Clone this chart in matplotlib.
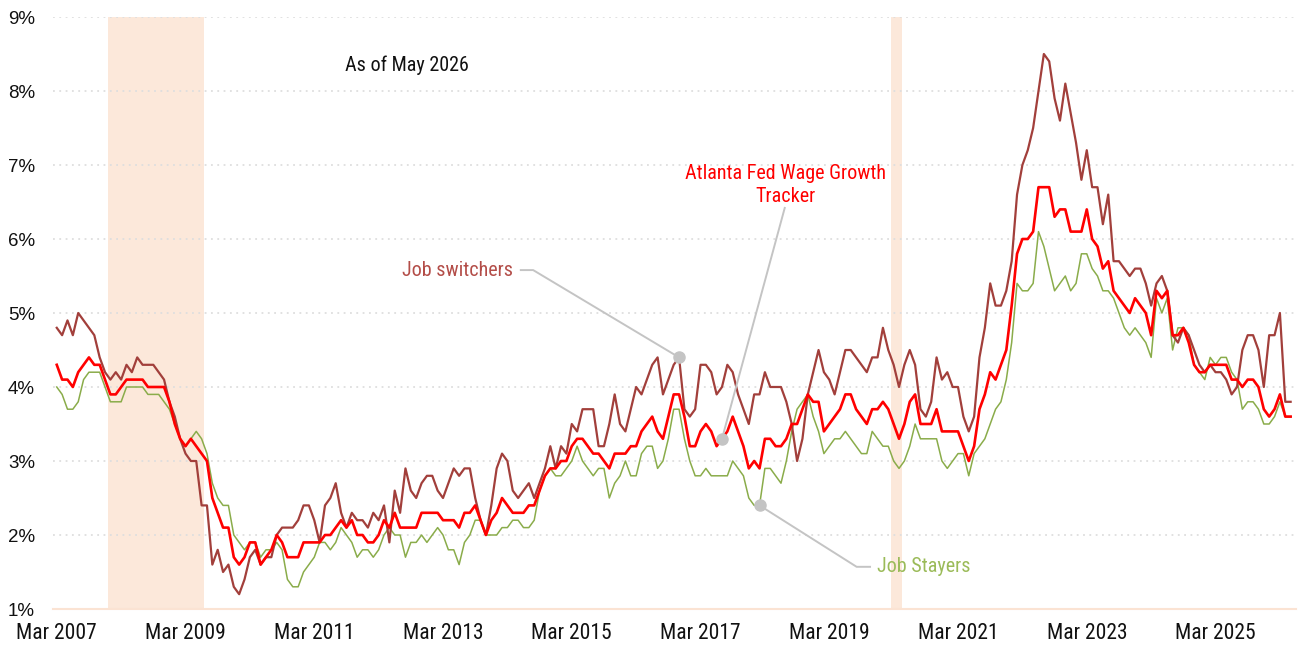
import numpy as np
import pandas as pd
import matplotlib
matplotlib.use("Agg")
import matplotlib.pyplot as plt
from matplotlib import font_manager

# Monthly series, 3-month moving average of median wage growth (%), Mar 2007 onward
start_month = "2007-03"

switchers = [
    4.8, 4.7, 4.9, 4.7, 5.0, 4.9, 4.8, 4.7,
    4.4, 4.2, 4.1, 4.2, 4.1, 4.3, 4.2, 4.4,
    4.3, 4.3, 4.3, 4.2, 4.1, 3.8, 3.6, 3.3,
    3.1, 3.0, 3.0, 2.4, 2.4, 1.6, 1.8, 1.5,
    1.6, 1.3, 1.2, 1.4, 1.7, 1.8, 1.6, 1.7,
    1.7, 2.0, 2.1, 2.1, 2.1, 2.2, 2.4, 2.4,
    2.2, 1.9, 2.4, 2.5, 2.7, 2.3, 2.1, 2.3,
    2.2, 2.2, 2.1, 2.3, 2.2, 2.4, 1.9, 2.6,
    2.3, 2.9, 2.6, 2.5, 2.7, 2.8, 2.8, 2.6,
    2.5, 2.7, 2.9, 2.8, 2.9, 2.9, 2.5, 2.2,
    2.0, 2.4, 2.9, 3.1, 3.0, 2.6, 2.5, 2.6,
    2.7, 2.5, 2.7, 2.9, 3.2, 2.9, 3.2, 3.1,
    3.5, 3.4, 3.7, 3.7, 3.7, 3.2, 3.2, 3.5,
    3.9, 3.5, 3.4, 3.7, 4.0, 3.9, 4.1, 4.3,
    4.4, 3.9, 4.1, 4.3, 4.4, 3.7, 3.6, 3.7,
    4.3, 4.3, 4.2, 3.9, 4.0, 4.3, 4.2, 3.9,
    3.7, 3.5, 3.9, 3.9, 4.2, 4.0, 4.0, 4.0,
    3.8, 3.5, 3.0, 3.3, 3.9, 4.2, 4.5, 4.2,
    4.1, 3.9, 4.2, 4.5, 4.5, 4.4, 4.3, 4.2,
    4.4, 4.4, 4.8, 4.5, 4.3, 4.0, 4.3, 4.5,
    4.3, 3.7, 3.6, 3.8, 4.4, 4.1, 4.2, 4.0,
    4.0, 3.6, 3.4, 3.6, 4.4, 4.8, 5.4, 5.1,
    5.1, 5.3, 5.7, 6.6, 7.0, 7.2, 7.5, 8.0,
    8.5, 8.4, 7.9, 7.6, 8.1, 7.7, 7.3, 6.8,
    7.2, 6.7, 6.7, 6.2, 6.6, 5.7, 5.7, 5.6,
    5.5, 5.6, 5.6, 5.4, 5.1, 5.4, 5.5, 5.3,
    4.7, 4.6, 4.8, 4.7, 4.5, 4.3, 4.2, 4.3,
    4.2, 4.2, 4.1, 3.9, 4.0, 4.5, 4.7, 4.7,
    4.5, 4.0, 4.7, 4.7, 5.0, 3.8, 3.8,
]

tracker = [
    4.3, 4.1, 4.1, 4.0, 4.2, 4.3, 4.4, 4.3,
    4.3, 4.1, 3.9, 3.9, 4.0, 4.1, 4.1, 4.1,
    4.1, 4.0, 4.0, 4.0, 4.0, 3.8, 3.5, 3.3,
    3.2, 3.3, 3.2, 3.1, 3.0, 2.5, 2.3, 2.1,
    2.1, 1.7, 1.6, 1.7, 1.9, 1.9, 1.6, 1.7,
    1.8, 2.0, 1.9, 1.7, 1.7, 1.7, 1.9, 1.9,
    1.9, 1.9, 2.0, 2.0, 2.1, 2.2, 2.1, 2.2,
    2.0, 2.0, 1.9, 1.9, 2.0, 2.2, 2.1, 2.3,
    2.1, 2.1, 2.1, 2.1, 2.3, 2.3, 2.3, 2.3,
    2.2, 2.2, 2.2, 2.1, 2.3, 2.3, 2.4, 2.2,
    2.0, 2.2, 2.3, 2.5, 2.4, 2.3, 2.3, 2.3,
    2.4, 2.4, 2.6, 2.8, 2.9, 2.9, 3.0, 3.0,
    3.2, 3.3, 3.3, 3.2, 3.1, 3.1, 3.0, 2.9,
    3.1, 3.1, 3.1, 3.2, 3.2, 3.4, 3.5, 3.6,
    3.4, 3.3, 3.6, 3.9, 3.9, 3.6, 3.2, 3.2,
    3.4, 3.5, 3.4, 3.2, 3.3, 3.4, 3.6, 3.4,
    3.2, 2.9, 3.0, 2.9, 3.3, 3.3, 3.2, 3.2,
    3.3, 3.5, 3.5, 3.7, 3.9, 3.8, 3.8, 3.4,
    3.5, 3.6, 3.7, 3.9, 3.9, 3.7, 3.6, 3.5,
    3.7, 3.7, 3.8, 3.7, 3.5, 3.3, 3.5, 3.8,
    3.9, 3.5, 3.5, 3.5, 3.7, 3.4, 3.4, 3.4,
    3.4, 3.2, 3.0, 3.2, 3.7, 3.9, 4.2, 4.1,
    4.3, 4.5, 5.1, 5.8, 6.0, 6.0, 6.1, 6.7,
    6.7, 6.7, 6.3, 6.4, 6.4, 6.1, 6.1, 6.1,
    6.4, 6.0, 5.9, 5.6, 5.7, 5.3, 5.2, 5.1,
    5.0, 5.2, 5.1, 5.0, 4.7, 5.3, 5.2, 5.3,
    4.7, 4.7, 4.8, 4.6, 4.3, 4.2, 4.2, 4.3,
    4.3, 4.3, 4.3, 4.1, 4.1, 4.0, 4.1, 4.1,
    4.0, 3.7, 3.6, 3.7, 3.9, 3.6, 3.6,
]

stayers = [
    4.0, 3.9, 3.7, 3.7, 3.8, 4.1, 4.2, 4.2,
    4.2, 4.0, 3.8, 3.8, 3.8, 4.0, 4.0, 4.0,
    4.0, 3.9, 3.9, 3.9, 3.8, 3.7, 3.5, 3.3,
    3.2, 3.3, 3.4, 3.3, 3.1, 2.7, 2.5, 2.4,
    2.4, 2.0, 1.9, 1.8, 1.9, 1.9, 1.7, 1.8,
    1.8, 1.9, 1.8, 1.4, 1.3, 1.3, 1.5, 1.6,
    1.7, 1.9, 1.9, 1.8, 1.9, 2.1, 2.0, 1.9,
    1.7, 1.8, 1.8, 1.7, 1.8, 2.0, 2.1, 2.0,
    2.0, 1.7, 1.9, 1.9, 2.0, 1.9, 2.0, 2.1,
    2.0, 1.8, 1.8, 1.6, 1.9, 2.0, 2.2, 2.2,
    2.0, 2.0, 2.0, 2.1, 2.1, 2.2, 2.2, 2.1,
    2.1, 2.2, 2.6, 2.8, 2.9, 2.8, 2.8, 2.9,
    3.0, 3.2, 3.0, 2.9, 2.8, 2.9, 2.9, 2.5,
    2.7, 2.8, 3.0, 2.8, 2.8, 3.1, 3.2, 3.2,
    2.9, 3.0, 3.3, 3.7, 3.7, 3.3, 3.0, 2.8,
    2.8, 2.9, 2.8, 2.8, 2.8, 2.8, 3.0, 2.9,
    2.8, 2.5, 2.4, 2.4, 2.9, 2.9, 2.8, 2.7,
    3.0, 3.4, 3.7, 3.8, 3.9, 3.6, 3.4, 3.1,
    3.2, 3.3, 3.3, 3.4, 3.3, 3.2, 3.1, 3.1,
    3.4, 3.3, 3.2, 3.2, 3.0, 2.9, 3.0, 3.2,
    3.5, 3.3, 3.3, 3.3, 3.3, 3.0, 2.9, 3.0,
    3.1, 3.1, 2.8, 3.1, 3.2, 3.3, 3.5, 3.7,
    3.8, 4.1, 4.6, 5.4, 5.3, 5.3, 5.4, 6.1,
    5.9, 5.6, 5.3, 5.4, 5.5, 5.3, 5.4, 5.8,
    5.8, 5.6, 5.5, 5.3, 5.3, 5.2, 5.0, 4.8,
    4.7, 4.8, 4.7, 4.6, 4.4, 5.2, 5.0, 5.2,
    4.5, 4.8, 4.8, 4.7, 4.3, 4.2, 4.1, 4.4,
    4.3, 4.4, 4.4, 4.2, 4.1, 3.7, 3.8, 3.8,
    3.7, 3.5, 3.5, 3.6, 3.8, 3.6, 3.6,
]

# NBER recessions (first and last month)
recessions = [("2007-12", "2009-06"), ("2020-02", "2020-04")]

months = pd.date_range(start_month, periods=len(tracker), freq="MS")
x = np.arange(len(tracker))


def month_index(m):
    return months.get_loc(pd.Timestamp(m + "-01"))


def pick_narrow_font():
    # look for a condensed / narrow regular face among installed fonts
    good = []
    for f in font_manager.fontManager.ttflist:
        if f.style != "normal" or f.weight not in (400, "normal", "regular", "book"):
            continue
        nm = f.name.lower()
        if "narrow" in nm or "condensed" in nm or f.stretch in ("condensed", "semi-condensed"):
            good.append(f)
    prefs = ["liberation sans narrow", "roboto condensed", "noto sans", "open sans", "dejavu sans"]
    for p in prefs:
        for f in good:
            if f.name.lower().startswith(p):
                return f.fname
    if good:
        return good[0].fname
    return None


narrow_path = pick_narrow_font()


def nfont(size):
    if narrow_path:
        return font_manager.FontProperties(fname=narrow_path, size=size)
    return font_manager.FontProperties(family="DejaVu Sans", size=size)


fig = plt.figure(figsize=(12.99, 6.47), dpi=100)
ax = fig.add_axes([53 / 1299, 1 - 609 / 647, (1296 - 53) / 1299, (609 - 17) / 647])

for a, b in recessions:
    ax.axvspan(month_index(a) + 0.5, month_index(b) + 0.5, color="#fce8da", lw=0, zorder=0)

ax.set_ylim(1, 9)
ax.set_xlim(-0.7, 231)
ax.set_yticks(range(1, 10))
ax.set_yticklabels([f"{v}%" for v in range(1, 10)], family=["Liberation Sans", "DejaVu Sans"], fontsize=13.5)
ticks = x[::24]
ax.set_xticks(ticks)
ax.set_xticklabels(months[ticks].strftime("%b %Y"), fontproperties=nfont(15.5))
ax.tick_params(axis="both", length=0, colors="#111111")
ax.tick_params(axis="y", pad=13)
ax.tick_params(axis="x", pad=10)
ax.grid(axis="y", color="#dedede", linestyle=(0, (1, 2.5)), linewidth=1.3)
ax.grid(axis="x", visible=False)
for s in ["top", "right", "left"]:
    ax.spines[s].set_visible(False)
ax.spines["bottom"].set_color("#fbe3d3")
ax.spines["bottom"].set_linewidth(1.5)

ax.plot(x, stayers, color="#8aac4a", lw=1.1, zorder=3)
ax.plot(x, switchers, color="#a23f3b", lw=1.6, zorder=4)
ax.plot(x, tracker, color="#ff0000", lw=1.9, zorder=5)

grey = "#c4c4c4"
# Job switchers label
k = 116
ax.plot([86.5, 88.8, k], [5.58, 5.58, switchers[k]], color=grey, lw=1.4, zorder=6)
ax.plot(k, switchers[k], "o", color=grey, ms=8, zorder=7)
ax.text(85.0, 5.58, "Job switchers", ha="right", va="center", color="#b34d48",
        fontproperties=nfont(14.5))

# Tracker label
k = 124
ax.plot([135.7, k], [6.42, tracker[k]], color=grey, lw=1.4, zorder=6)
ax.plot(k, tracker[k], "o", color=grey, ms=8, zorder=7)
ax.text(135.9, 6.73, "Atlanta Fed Wage Growth\nTracker", ha="center", va="center",
        color="#ff0000", fontproperties=nfont(14.5), linespacing=1.25)

# Job stayers label
k = 131
ax.plot([k, 149.1, 151.6], [stayers[k], 1.57, 1.57], color=grey, lw=1.4, zorder=6)
ax.plot(k, stayers[k], "o", color=grey, ms=8, zorder=7)
ax.text(152.9, 1.57, "Job Stayers", ha="left", va="center", color="#9bbb59",
        fontproperties=nfont(14.5))

ax.text(53.7, 8.35, "As of May 2026", ha="left", va="center", color="#111111",
        fontproperties=nfont(14.5))

fig.savefig("out.png", dpi=100)
